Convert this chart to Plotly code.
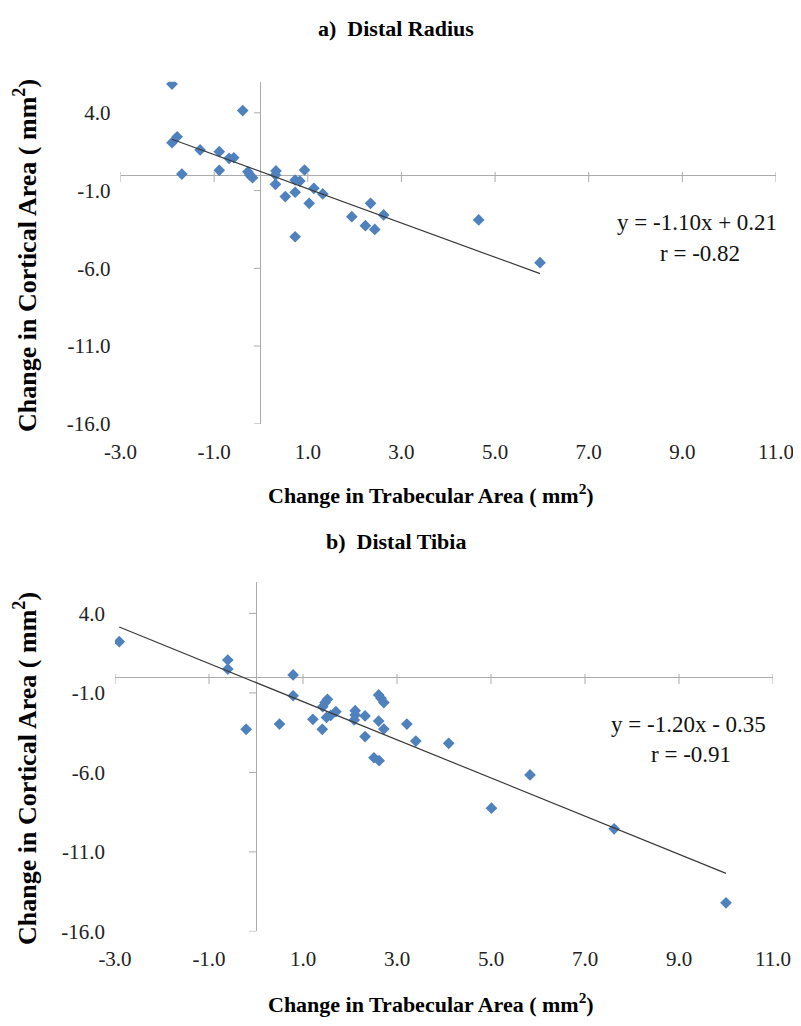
import plotly.graph_objects as go

# ---------- data ----------
radius_x = [-1.90, -0.39, -1.79, -1.90, -1.30, -0.89, -0.68, -0.58, -1.69, -0.89, -0.28, -0.24,
            -0.18, 0.32, 0.31, 0.31, 0.93, 0.73, 0.83, 0.73, 0.52, 1.13, 1.32, 1.03, 0.73, 1.94,
            2.34, 2.62, 2.23, 2.43, 4.65, 5.96]
radius_y = [5.85, 4.14, 2.46, 2.08, 1.61, 1.50, 1.07, 1.11, 0.06, 0.30, 0.21, 0.00,
            -0.17, 0.26, 0.00, -0.60, 0.32, -0.32, -0.39, -1.11, -1.39, -0.86, -1.22, -1.82, -3.97, -2.68,
            -1.82, -2.57, -3.26, -3.50, -2.89, -5.64]
radius_fit = (-1.10, 0.21)
radius_r = -0.82

tibia_x = [-2.91, -0.60, -0.60, -0.21, 0.79, 0.79, 0.50, 1.21, 1.41, 1.42, 1.47, 1.52, 1.50, 1.59,
           1.70, 2.11, 2.11, 2.09, 2.32, 2.32, 2.51, 2.62, 2.61, 2.66, 2.72, 2.61, 2.72, 3.21,
           3.40, 4.10, 5.83, 5.01, 7.62, 10.0]
tibia_y = [2.22, 1.07, 0.50, -3.29, 0.13, -1.18, -2.96, -2.66, -3.29, -1.87, -1.61, -1.40, -2.54, -2.41,
           -2.18, -2.12, -2.39, -2.70, -2.45, -3.75, -5.08, -5.26, -1.13, -1.34, -1.61, -2.77, -3.27, -2.96,
           -4.03, -4.17, -6.16, -8.25, -9.55, -14.2]
tibia_fit = (-1.20, -0.35)
tibia_r = -0.91

x_ticks = [-3, -1, 1, 3, 5, 7, 9, 11]
y_ticks = [-16, -11, -6, -1, 4]
x_range = [-3, 11]
y_range = [-16, 6]

panel_titles = ["a)  Distal Radius", "b)  Distal Tibia"]
x_title = "Change in Trabecular Area ( mm<sup>2</sup>)"
y_title = "Change in Cortical Area ( mm<sup>2</sup>)"

# ---------- styling ----------
# the html page has an 8px body margin, so the figure is placed 8px in
OFF = 8
W, H = 801 - 2 * OFF, 1026 - 2 * OFF
FONT = "Liberation Serif"
MARK = "#4F81BD"
AXC = "#ABABAB"
TXT = "#222222"

def px(xp):
    return (xp - OFF) / W

def py(yp):
    return 1 - (yp - OFF) / H

def fmt(v):
    return "%.1f" % v

panels = [
    dict(x=radius_x, y=radius_y, fit=radius_fit, r=radius_r, ax="x", ay="y",
         xdom=[px(120.5), px(776)], ydom=[py(423.8), py(81.7)],
         title_y=28, xt_y=494, yt_y=256, eq_x=697, eq_y=223),
    dict(x=tibia_x, y=tibia_y, fit=tibia_fit, r=tibia_r, ax="x2", ay="y2",
         xdom=[px(115), px(773)], ydom=[py(931.4), py(581.6)],
         title_y=541, xt_y=1003, yt_y=769, eq_x=688, eq_y=724),
]

fig = go.Figure()
annotations = []
shapes = []

for i, p in enumerate(panels):
    fig.add_trace(go.Scatter(
        x=p["x"], y=p["y"], mode="markers", xaxis=p["ax"], yaxis=p["ay"],
        marker=dict(symbol="diamond", size=9, color=MARK, line=dict(width=0)),
        showlegend=False, hoverinfo="skip"))
    m, b = p["fit"]
    xs = [min(p["x"]), max(p["x"])]
    fig.add_trace(go.Scatter(
        x=xs, y=[m * v + b for v in xs], mode="lines", xaxis=p["ax"], yaxis=p["ay"],
        line=dict(color="#3A3A3A", width=1.2), showlegend=False, hoverinfo="skip"))

    xa = "xaxis" if i == 0 else "xaxis2"
    ya = "yaxis" if i == 0 else "yaxis2"
    fig.update_layout({
        xa: dict(domain=p["xdom"], range=x_range, anchor=p["ay"], tickmode="array",
                 tickvals=x_ticks, ticktext=[fmt(v) for v in x_ticks],
                 showgrid=False, showline=False, ticks="", automargin=False,
                 zeroline=True, zerolinecolor=AXC, zerolinewidth=1,
                 ticklabelstandoff=13, ticklabeloverflow="allow",
                 tickfont=dict(family=FONT, size=21, color=TXT)),
        ya: dict(domain=p["ydom"], range=y_range, anchor=p["ax"], tickmode="array",
                 tickvals=y_ticks, ticktext=[fmt(v) for v in y_ticks],
                 showgrid=False, showline=False, ticks="", automargin=False,
                 zeroline=True, zerolinecolor=AXC, zerolinewidth=1,
                 ticklabelstandoff=9, ticklabeloverflow="allow",
                 tickfont=dict(family=FONT, size=21, color=TXT)),
    })

    xr = p["ax"]
    yr = p["ay"]
    for t in x_ticks:
        shapes.append(dict(type="line", xref=xr, yref=yr, ysizemode="pixel", yanchor=0,
                           x0=t, x1=t, y0=-7, y1=3, line=dict(color=AXC, width=1)))
    for t in y_ticks:
        shapes.append(dict(type="line", xref=xr, yref=yr, xsizemode="pixel", xanchor=0,
                           y0=t, y1=t, x0=-7, x1=0, line=dict(color=AXC, width=1)))

    annotations.append(dict(text="<b>" + panel_titles[i] + "</b>", xref="paper", yref="paper",
                            x=px(396), y=py(p["title_y"]), showarrow=False,
                            xanchor="center", yanchor="middle",
                            font=dict(family=FONT, size=22, color="#000")))
    annotations.append(dict(text="<b>" + x_title + "</b>", xref="paper", yref="paper",
                            x=px(431), y=py(p["xt_y"]), showarrow=False,
                            xanchor="center", yanchor="middle",
                            font=dict(family=FONT, size=22, color="#000")))
    annotations.append(dict(text="<b>" + y_title + "</b>", xref="paper", yref="paper",
                            x=px(25), y=py(p["yt_y"]), showarrow=False, textangle=-90,
                            xanchor="center", yanchor="middle",
                            font=dict(family=FONT, size=26, color="#000")))
    sign = "+" if b >= 0 else "-"
    eq = "y = %.2fx %s %.2f" % (m, sign, abs(b))
    annotations.append(dict(text=eq, xref="paper", yref="paper",
                            x=px(p["eq_x"]), y=py(p["eq_y"]), showarrow=False,
                            xanchor="center", yanchor="middle",
                            font=dict(family=FONT, size=23, color="#111")))
    annotations.append(dict(text="r = %.2f" % p["r"], xref="paper", yref="paper",
                            x=px(p["eq_x"] + 3), y=py(p["eq_y"] + 30), showarrow=False,
                            xanchor="center", yanchor="middle",
                            font=dict(family=FONT, size=23, color="#111")))

fig.update_layout(
    template="none",
    width=W, height=H, margin=dict(l=0, r=0, t=0, b=0, autoexpand=False),
    paper_bgcolor="white", plot_bgcolor="white",
    annotations=annotations, shapes=shapes, showlegend=False,
)

fig.write_html("out.html")
